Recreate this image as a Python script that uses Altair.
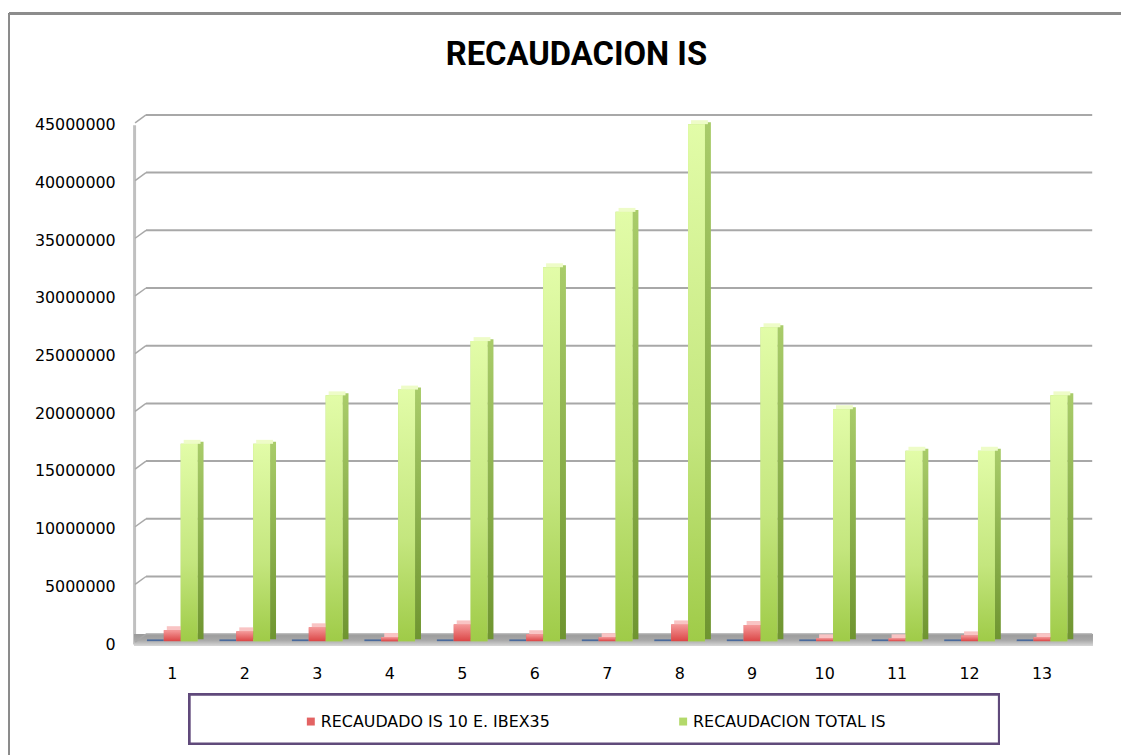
import altair as alt
import pandas as pd

categories = [str(i) for i in range(1, 14)]
series_names = ["SERIE 1", "RECAUDADO IS 10 E. IBEX35", "RECAUDACION TOTAL IS"]
serie1 = [150000] * 13
ibex = [950000, 850000, 1200000, 350000, 1450000, 600000, 350000,
        1450000, 1400000, 250000, 250000, 500000, 350000]
total = [17100000, 17100000, 21300000, 21800000, 26000000, 32400000, 37200000,
         44800000, 27200000, 20100000, 16500000, 16500000, 21300000]
y_ticks = [0, 5000000, 10000000, 15000000, 20000000, 25000000, 30000000,
           35000000, 40000000, 45000000]

rows = []
for c, a, b, t in zip(categories, serie1, ibex, total):
    rows.append({"cat": c, "serie": series_names[0], "value": a})
    rows.append({"cat": c, "serie": series_names[1], "value": b})
    rows.append({"cat": c, "serie": series_names[2], "value": t})
df = pd.DataFrame(rows)
ticks_df = pd.DataFrame({"v": y_ticks})

LABEL_FONT = "DejaVu Sans"

x_enc = alt.X("cat:N", sort=categories, title=None,
              scale=alt.Scale(paddingInner=0.3, paddingOuter=0.15),
              axis=alt.Axis(labelAngle=0, ticks=False, domain=False, grid=False,
                            labelFont=LABEL_FONT, labelFontSize=16,
                            labelColor="#000000", labelPadding=22))


def xoff(shift=0):
    # sub-band position of each series inside a category band (51 px wide)
    return alt.XOffset("serie:N", sort=series_names,
                       scale=alt.Scale(domain=series_names, paddingInner=0, paddingOuter=0,
                                       range=[shift, 51 + shift]))


y_scale = alt.Scale(domain=[0, 45000000], nice=False)
y_enc = alt.Y("value:Q", scale=y_scale, title=None,
              axis=alt.Axis(values=y_ticks, format="d", grid=False, ticks=False,
                            domainColor="#c0c0c0", domainWidth=3, offset=2,
                            labelFont=LABEL_FONT, labelFontSize=16,
                            labelColor="#000000", labelPadding=19))
y_top = alt.Y("value:Q", scale=y_scale)
y2_top = alt.Y2("value:Q")

base = alt.Chart(df)

# decorative frame pieces (chart border, floor, legend box)
frame_left = base.mark_rule(color="#8c8c8c", strokeWidth=2).encode(
    x=alt.value(-128), y=alt.value(-112), y2=alt.value(640))
frame_top = base.mark_rule(color="#8c8c8c", strokeWidth=2).encode(
    x=alt.value(-128), x2=alt.value(1000), y=alt.value(-112))
floor = base.mark_rect(
    fill=alt.Gradient(gradient="linear", x1=0, y1=0, x2=0, y2=1,
                      stops=[alt.GradientStop(offset=0, color="#9a9a9a"),
                             alt.GradientStop(offset=0.5, color="#a8a8a8"),
                             alt.GradientStop(offset=1, color="#d8d8d8")])
).encode(x=alt.value(-2), x2=alt.value(963), y=alt.value(513), y2=alt.value(525))
legend_box = base.mark_rect(fill="white", stroke="#604a7b", strokeWidth=2).encode(
    x=alt.value(54), x2=alt.value(869), y=alt.value(574), y2=alt.value(623))

grid = alt.Chart(ticks_df).mark_rule(color="#a8a8a8", strokeWidth=2, yOffset=-10).encode(
    y=alt.Y("v:Q", scale=y_scale), x=alt.value(10), x2=alt.value(963))
grid_conn = alt.Chart(ticks_df).mark_rule(color="#a8a8a8", strokeWidth=1.5,
                                          yOffset=-2, y2Offset=-10).encode(
    y=alt.Y("v:Q", scale=y_scale), y2=alt.Y2("v:Q"), x=alt.value(-1), x2=alt.value(10))

blue_data = base.transform_filter(alt.datum.serie == series_names[0])
red_data = base.transform_filter(alt.datum.serie == series_names[1])
green_data = base.transform_filter(alt.datum.serie == series_names[2])

# blue near-zero series
blue = blue_data.mark_bar(color="#4a6a9c", yOffset=-3).encode(
    x=x_enc, xOffset=xoff(), y=y_enc)

# bars carrying the legend
legend_bars = base.transform_filter(alt.datum.serie != series_names[0]).mark_bar(
    yOffset=-3).encode(
    x=x_enc, xOffset=xoff(), y=y_enc,
    color=alt.Color("serie:N",
                    scale=alt.Scale(domain=series_names[1:], range=["#e36363", "#b3d96a"]),
                    legend=alt.Legend(title=None, orient="none", legendX=168, legendY=593,
                                      direction="horizontal", symbolType="square",
                                      symbolSize=64, symbolStrokeWidth=0,
                                      labelFont=LABEL_FONT, labelFontSize=16,
                                      labelLimit=500,
                                      labelColor="#000000", labelOffset=2,
                                      columnPadding=126, padding=0)))

red_front = red_data.mark_bar(
    yOffset=-3,
    fill=alt.Gradient(gradient="linear", x1=0, y1=0, x2=0, y2=1,
                      stops=[alt.GradientStop(offset=0, color="#f59a9a"),
                             alt.GradientStop(offset=1, color="#db4646")])
).encode(x=x_enc, xOffset=xoff(), y=y_enc)
red_side = red_data.mark_bar(yOffset=-5, width=6, color="#b84444").encode(
    x=x_enc, xOffset=xoff(11.5), y=y_enc)
red_top = red_data.mark_rect(yOffset=-7, y2Offset=-3, width=17, color="#f9c4c4").encode(
    x=x_enc, xOffset=xoff(3), y=y_top, y2=y2_top)

green_front = green_data.mark_bar(
    yOffset=-3,
    fill=alt.Gradient(gradient="linear", x1=0, y1=0, x2=0, y2=1,
                      stops=[alt.GradientStop(offset=0, color="#e2fca8"),
                             alt.GradientStop(offset=0.6, color="#c4e67e"),
                             alt.GradientStop(offset=1, color="#9fcb48")])
).encode(x=x_enc, xOffset=xoff(), y=y_enc)
green_side = green_data.mark_bar(
    yOffset=-5, width=6,
    fill=alt.Gradient(gradient="linear", x1=0, y1=0, x2=0, y2=1,
                      stops=[alt.GradientStop(offset=0, color="#a9cc6a"),
                             alt.GradientStop(offset=1, color="#6f9530")])
).encode(x=x_enc, xOffset=xoff(11.5), y=y_enc)
green_top = green_data.mark_rect(yOffset=-7, y2Offset=-3, width=17, color="#eefcc8").encode(
    x=x_enc, xOffset=xoff(3), y=y_top, y2=y2_top)

chart = alt.layer(
    frame_left, frame_top, legend_box, floor, grid, grid_conn,
    blue, legend_bars, red_side, red_top, red_front, green_side, green_top, green_front
).resolve_scale(
    xOffset="independent"
).properties(
    width=949, height=523,
    view=alt.ViewBackground(stroke="transparent", strokeWidth=0),
    title=alt.Title("RECAUDACION IS", font="Roboto", fontSize=33, fontWeight="bold",
                    color="#000000", anchor="middle", dx=-31, baseline="alphabetic",
                    offset=-86),
    autosize=alt.AutoSizeParams(type="none"),
    padding={"left": 129, "top": 115, "right": 43, "bottom": 109},
).configure_view(stroke="transparent", strokeWidth=0).configure_axis(
    grid=False).configure(background="white")

chart.save("out.html", embed_options={"renderer": "svg", "actions": False})
